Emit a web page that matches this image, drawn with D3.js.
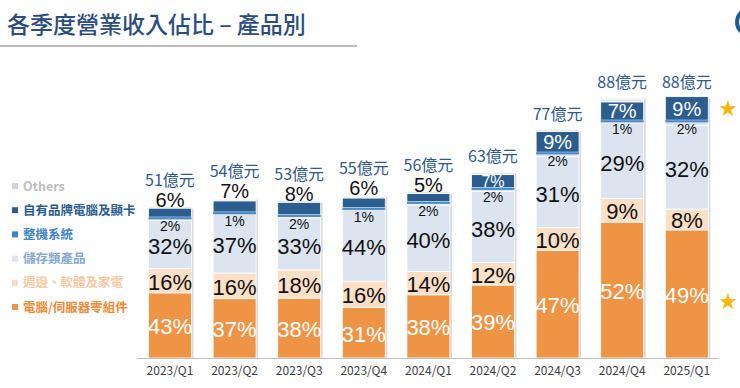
<!DOCTYPE html>
<html lang="zh-Hant">
  <head>
    <meta charset="UTF-8" />
    <title>各季度營業收入佔比 – 產品別</title>
    <script src="https://cdn.jsdelivr.net/npm/d3@7/dist/d3.min.js"></script>
    <style>
      body { margin: 0; background: #fff; }
      text { font-family: "Noto Sans CJK TC", "Liberation Sans", sans-serif; }
      .pct { font-family: "Liberation Sans", "Noto Sans CJK TC", sans-serif; }
    </style>
  </head>
  <body>
    <div id="wrapper"></div>
    <script>
      // data
      const quarters = ["2023/Q1", "2023/Q2", "2023/Q3", "2023/Q4", "2024/Q1", "2024/Q2", "2024/Q3", "2024/Q4", "2025/Q1"];
      const revenue = [51, 54, 53, 55, 56, 63, 77, 88, 88]; // 億元
      const pcParts = [43, 37, 38, 31, 38, 39, 47, 52, 49];
      const peripherals = [16, 16, 18, 16, 14, 12, 10, 9, 8];
      const storage = [32, 37, 33, 44, 40, 38, 31, 29, 32];
      const systems = [2, 1, 2, 1, 2, 2, 2, 1, 2];
      const ownBrand = [6, 7, 8, 6, 5, 7, 9, 7, 9];
      const others = [1, 1, 1, 1, 1, 1, 1, 1, 0];

      const keys = ["pcParts", "peripherals", "storage", "systems", "ownBrand", "others"];
      const pctByKey = { pcParts, peripherals, storage, systems, ownBrand, others };
      const legendNames = {
        others: "Others",
        ownBrand: "自有品牌電腦及顯卡",
        systems: "整機系統",
        storage: "儲存類產品",
        peripherals: "週邊、軟體及家電",
        pcParts: "電腦/伺服器零組件",
      };
      const fills = {
        pcParts: "#ef9444",
        peripherals: "#fbdfc6",
        storage: "#dce5ef",
        systems: "#dce5ef",
        ownBrand: "#2c5d8f",
        others: "#e4e4e4",
      };
      const legendColors = {
        others: ["#d4d4d4", "#bdbdbd"],
        ownBrand: ["#2c5d8f", "#2c5d8f"],
        systems: ["#3f84c4", "#3f84c4"],
        storage: ["#dfe6ef", "#86a9d0"],
        peripherals: ["#fadcc4", "#f6c9a3"],
        pcParts: ["#ef9444", "#ec8a33"],
      };

      const width = 740;
      const height = 388;
      const baseline = 358;

      // table in 億元 for the stack
      const table = quarters.map((q, i) => {
        const row = { quarter: q, revenue: revenue[i] };
        keys.forEach((k) => (row[k] = (revenue[i] * pctByKey[k][i]) / 100));
        return row;
      });

      const svg = d3
        .select("#wrapper")
        .append("svg")
        .attr("width", width)
        .attr("height", height);

      // title
      svg
        .append("text")
        .attr("x", 7)
        .attr("y", 33)
        .attr("font-size", 23)
        .attr("font-weight", 500)
        .attr("fill", "#2b4c7e")
        .text("各季度營業收入佔比 – 產品別");
      svg
        .append("line")
        .attr("x1", 0)
        .attr("x2", 357)
        .attr("y1", 46)
        .attr("y2", 46)
        .attr("stroke", "#a6a6a6")
        .attr("stroke-width", 1.5);
      // corner of the logo
      svg
        .append("circle")
        .attr("cx", 750)
        .attr("cy", 22)
        .attr("r", 13)
        .attr("fill", "none")
        .attr("stroke", "#1f5a8f")
        .attr("stroke-width", 4);

      const xScale = d3
        .scaleBand()
        .domain(quarters)
        .range([137.7, 719.1])
        .paddingInner(0.335)
        .paddingOuter(0.1675);

      const yScale = d3.scaleLinear().domain([0, 100]).range([baseline, baseline - 297]);

      const series = d3.stack().keys(keys)(table);

      const bounds = svg.append("g");

      // soft shadow on the right of each bar
      bounds
        .selectAll(".shadow")
        .data(table)
        .join("rect")
        .attr("class", "shadow")
        .attr("x", (d) => xScale(d.quarter) + 2)
        .attr("y", (d) => yScale(d.revenue) + 2)
        .attr("width", xScale.bandwidth())
        .attr("height", (d) => baseline - yScale(d.revenue) - 2)
        .attr("fill", "#c9c9c9")
        .attr("opacity", 0.7);

      const layers = bounds
        .selectAll(".layer")
        .data(series)
        .join("g")
        .attr("class", "layer")
        .attr("fill", (s) => fills[s.key]);

      layers
        .selectAll("rect")
        .data((s) => s)
        .join("rect")
        .attr("x", (d) => xScale(d.data.quarter))
        .attr("y", (d) => yScale(d[1]))
        .attr("width", xScale.bandwidth())
        .attr("height", (d) => Math.max(0, yScale(d[0]) - yScale(d[1])))
        .attr("stroke", "#fff")
        .attr("stroke-width", 0.8);

      // 整機系統: thin blue rule on top of its slice
      bounds
        .selectAll(".sysline")
        .data(series[keys.indexOf("systems")])
        .join("rect")
        .attr("class", "sysline")
        .attr("x", (d) => xScale(d.data.quarter))
        .attr("y", (d) => yScale(d[1]))
        .attr("width", xScale.bandwidth())
        .attr("height", 2.2)
        .attr("fill", "#4a8ccb");

      // segment labels
      const cx = (d) => xScale(d.data.quarter) + xScale.bandwidth() / 2;
      const labelled = [
        { key: "pcParts", color: "#fff", size: 22 },
        { key: "peripherals", color: "#111", size: 22 },
        { key: "storage", color: "#111", size: 22 },
      ];
      labelled.forEach((cfg) => {
        const s = series[keys.indexOf(cfg.key)];
        bounds
          .append("g")
          .selectAll("text")
          .data(s)
          .join("text")
          .attr("class", "pct")
          .attr("x", cx)
          .attr("y", (d) => (yScale(d[0]) + yScale(d[1])) / 2 + (cfg.key === "storage" ? 2 : 1))
          .attr("dy", "0.36em")
          .attr("text-anchor", "middle")
          .attr("font-size", cfg.size)
          .attr("fill", cfg.color)
          .text((d, i) => pctByKey[cfg.key][i] + "%");
      });

      bounds
        .append("g")
        .selectAll("text")
        .data(series[keys.indexOf("systems")])
        .join("text")
        .attr("class", "pct")
        .attr("x", cx)
        .attr("y", (d) => yScale(d[1]) + 9)
        .attr("dy", "0.36em")
        .attr("text-anchor", "middle")
        .attr("font-size", 14)
        .attr("fill", "#111")
        .text((d, i) => systems[i] + "%");

      // own brand: inside when tall enough, otherwise on top of the bar
      const brand = series[keys.indexOf("ownBrand")];
      const segH = (d) => yScale(d[0]) - yScale(d[1]);
      const inside = (d) => segH(d) >= 13;
      bounds
        .append("g")
        .selectAll("text")
        .data(brand)
        .join("text")
        .attr("class", "pct")
        .attr("x", cx)
        .attr("y", (d) =>
          inside(d) ? (yScale(d[0]) + yScale(d[1])) / 2 : yScale(d.data.revenue) - 7
        )
        .attr("dy", "0.36em")
        .attr("text-anchor", "middle")
        .attr("font-size", (d) => (inside(d) ? Math.min(20, segH(d) + 3) : 20))
        .attr("fill", (d) => (inside(d) ? "#fff" : "#111"))
        .text((d, i) => ownBrand[i] + "%");

      // revenue totals
      bounds
        .append("g")
        .selectAll("text")
        .data(brand)
        .join("text")
        .attr("x", cx)
        .attr("y", (d) => yScale(d.data.revenue) - (inside(d) ? 9 : 21))
        .attr("text-anchor", "middle")
        .attr("font-size", 16)
        .attr("fill", "#2f5a8c")
        .text((d) => d.data.revenue + "億元");

      // x axis
      const xAxis = bounds
        .append("g")
        .attr("transform", `translate(0, ${baseline})`)
        .call(d3.axisBottom(xScale).tickSize(0).tickPadding(8));
      xAxis.select(".domain").attr("stroke", "#bfbfbf").attr("d", "M137,0.5H719");
      xAxis
        .selectAll("text")
        .attr("font-family", "Liberation Sans, sans-serif")
        .attr("font-size", 12)
        .attr("fill", "#404040");

      // legend
      const legendKeys = ["others", "ownBrand", "systems", "storage", "peripherals", "pcParts"];
      const legend = svg
        .append("g")
        .selectAll("g")
        .data(legendKeys)
        .join("g")
        .attr("transform", (d, i) => `translate(12, ${186 + i * 24.2})`);
      legend
        .append("rect")
        .attr("y", -3)
        .attr("width", 6)
        .attr("height", 6)
        .attr("fill", (d) => legendColors[d][0]);
      legend
        .append("text")
        .attr("x", 11)
        .attr("dy", "0.36em")
        .attr("font-size", 12.5)
        .attr("font-weight", 700)
        .attr("fill", (d) => legendColors[d][1])
        .text((d) => legendNames[d]);

      // stars
      svg
        .append("g")
        .selectAll("text")
        .data([ownBrand.length - 1, pcParts.length - 1])
        .join("text")
        .attr("x", 728)
        .attr("y", (d, i) =>
          i === 0 ? yScale(revenue[d]) + 12 : yScale((revenue[d] * pcParts[d]) / 200) + 8
        )
        .attr("dy", "0.36em")
        .attr("text-anchor", "middle")
        .attr("font-size", 18)
        .attr("fill", "#f6b60a")
        .text("★");
    </script>
  </body>
</html>
